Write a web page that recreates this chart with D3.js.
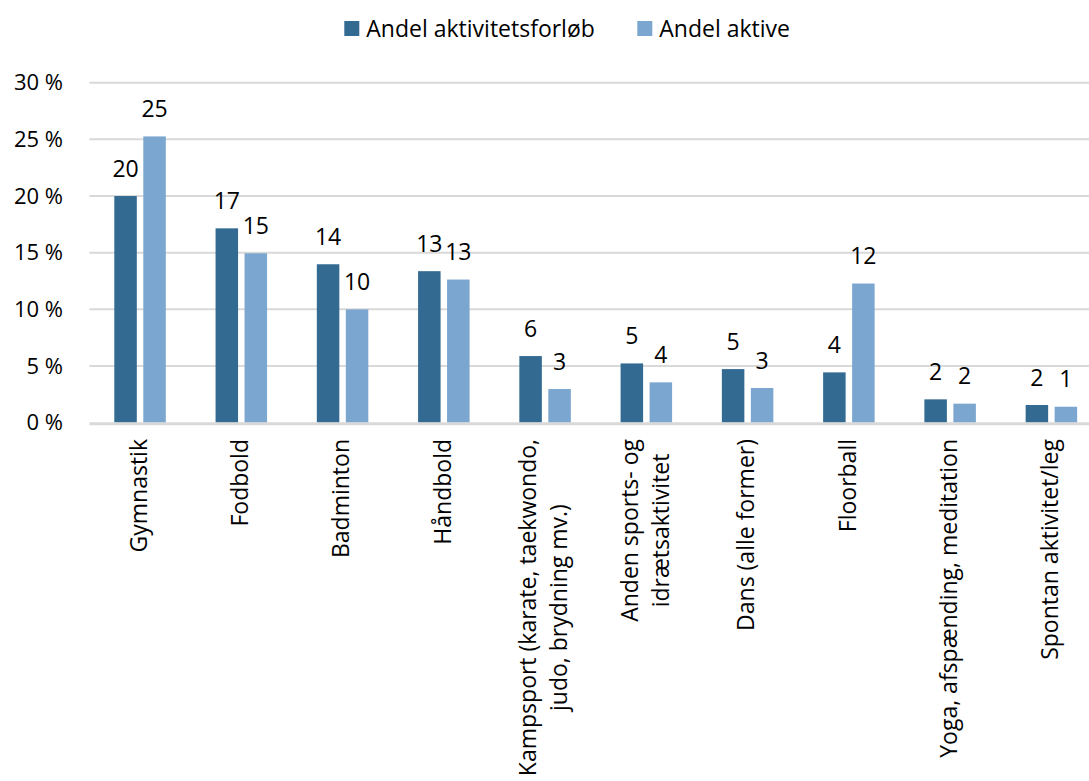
<!DOCTYPE html>
<html>
<head>
<meta charset="utf-8">
<script src="https://cdn.jsdelivr.net/npm/d3@7"></script>
<style>
  body { margin: 0; background: #fff; }
  text { font-family: "Open Sans", sans-serif; fill: #000; }
</style>
</head>
<body>
<script>
// data
var categories = [
  ["Gymnastik"],
  ["Fodbold"],
  ["Badminton"],
  ["Håndbold"],
  ["Kampsport (karate, taekwondo,", "judo, brydning mv.)"],
  ["Anden sports- og", "idrætsaktivitet"],
  ["Dans (alle former)"],
  ["Floorball"],
  ["Yoga, afspænding, meditation"],
  ["Spontan aktivitet/leg"]
];
var seriesNames = ["Andel aktivitetsforløb", "Andel aktive"];
var forloeb = [20.0, 17.15, 13.98, 13.37, 5.88, 5.23, 4.73, 4.44, 2.06, 1.56];
var aktive  = [25.26, 14.95, 10.0, 12.63, 2.97, 3.56, 3.06, 12.28, 1.68, 1.41];
var yTicks = [0, 5, 10, 15, 20, 25, 30];
var colors = ["#336a92", "#7ba6cf"];

var width = 1089, height = 781;
var fs = 23;

var svg = d3.select("body").append("svg")
    .attr("width", width)
    .attr("height", height);

var keys = categories.map(function(c){ return c.join(" "); });

// plot runs past the right edge, like the cropped original
var x0 = d3.scaleBand().domain(keys).range([89.4, 1102]).paddingInner(0).paddingOuter(0);
var x1 = d3.scaleBand().domain(seriesNames).range([24.9, 76.4]).paddingInner(0.224);
var y = d3.scaleLinear().domain([0, 30]).range([422.7, 82.7]);

// gridlines
svg.append("g").selectAll("line")
    .data(yTicks.filter(function(d){ return d > 0; }))
    .enter().append("line")
    .attr("x1", 89.4).attr("x2", width)
    .attr("y1", function(d){ return y(d); })
    .attr("y2", function(d){ return y(d); })
    .attr("stroke", "#d9d9d9")
    .attr("stroke-width", 2);

// y tick labels
svg.append("g").selectAll("text")
    .data(yTicks)
    .enter().append("text")
    .attr("x", 63)
    .attr("y", function(d){ return y(d); })
    .attr("dy", "0.35em")
    .attr("text-anchor", "end")
    .style("font-size", "22px")
    .text(function(d){ return d + " %"; });

var rows = keys.map(function(k, i){
  return { key: k, lines: categories[i], values: [forloeb[i], aktive[i]] };
});

var groups = svg.append("g").selectAll("g")
    .data(rows)
    .enter().append("g")
    .attr("transform", function(d){ return "translate(" + x0(d.key) + ",0)"; });

groups.selectAll("rect")
    .data(function(d){ return d.values.map(function(v, j){ return { s: seriesNames[j], v: v, j: j }; }); })
    .enter().append("rect")
    .attr("x", function(d){ return x1(d.s); })
    .attr("width", x1.bandwidth())
    .attr("y", function(d){ return y(d.v); })
    .attr("height", function(d){ return y(0) - y(d.v); })
    .attr("fill", function(d){ return colors[d.j]; });

// value labels
groups.selectAll("text.val")
    .data(function(d){ return d.values.map(function(v, j){ return { s: seriesNames[j], v: v }; }); })
    .enter().append("text")
    .attr("class", "val")
    .attr("x", function(d){ return x1(d.s) + x1.bandwidth() / 2; })
    .attr("y", function(d){ return y(d.v) - 19.3; })
    .attr("text-anchor", "middle")
    .style("font-size", fs + "px")
    .text(function(d){ return Math.round(d.v); });

// baseline
svg.append("line")
    .attr("x1", 89.4).attr("x2", width)
    .attr("y1", y(0) + 1).attr("y2", y(0) + 1)
    .attr("stroke", "#d9d9d9")
    .attr("stroke-width", 3);

// rotated category labels
var lineGap = 31;
groups.each(function(d){
  var g = d3.select(this);
  var cx = x0.bandwidth() / 2;
  var lbl = g.append("g");
  var texts = d.lines.map(function(line, i){
    return lbl.append("text")
      .style("font-size", fs + "px")
      .attr("text-anchor", "middle")
      .text(line);
  });
  var maxLen = d3.max(texts, function(t){ return t.node().getComputedTextLength(); });
  var n = d.lines.length;
  texts.forEach(function(t, i){
    var bx = cx + 0.3 * fs + (i - (n - 1) / 2) * lineGap;
    var by = 439 + maxLen / 2;
    t.attr("transform", "translate(" + bx + "," + by + ") rotate(-90)");
  });
});

// legend
var legend = svg.append("g");
var lx = [344.3, 637.3];
seriesNames.forEach(function(name, i){
  legend.append("rect")
    .attr("x", lx[i]).attr("y", 21)
    .attr("width", 15).attr("height", 15)
    .attr("fill", colors[i]);
  legend.append("text")
    .attr("x", lx[i] + 22).attr("y", 28.5)
    .attr("dy", "0.35em")
    .style("font-size", fs + "px")
    .text(name);
});
</script>
</body>
</html>
